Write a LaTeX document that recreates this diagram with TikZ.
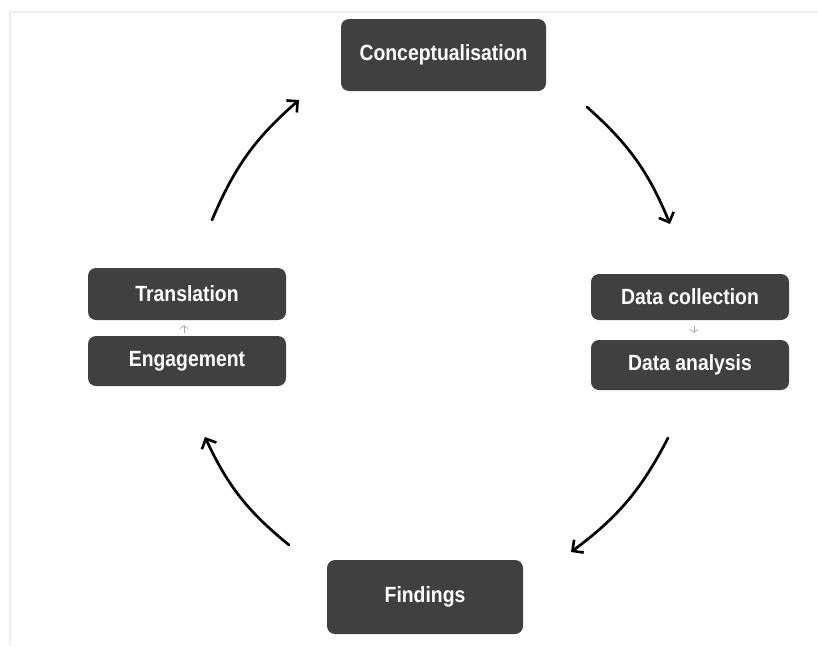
\documentclass[tikz,border=0pt]{standalone}
\usepackage{fontspec}
\setmainfont{Liberation Sans}[FakeStretch=0.88]
\usetikzlibrary{arrows.meta}
\definecolor{boxgray}{HTML}{404040}
\definecolor{framegray}{HTML}{EDEDED}
\tikzset{
  stage/.style={fill=boxgray, rounded corners=8pt, text=white,
    font=\fontsize{22}{24}\selectfont\bfseries, inner sep=0pt, align=center},
  cyclearrow/.style={line width=2.7pt, line cap=round,
    -{Straight Barb[length=8pt,width=16pt,line width=2.6pt]}, bend left=13},
  minorarrow/.style={draw=gray!70, line width=0.7pt,
    -{Straight Barb[length=3pt,width=8pt]}}
}
\begin{document}
\begin{tikzpicture}[x=1pt,y=-1pt]
\useasboundingbox (0,0) rectangle (818,645);
\draw[framegray, line width=1.5pt] (10,645) -- (10,12) -- (818,12);

\node[stage, minimum width=205pt, minimum height=72pt] (concept) at (443.5,55) {Conceptualisation};
\node[stage, minimum width=198pt, minimum height=46pt] (collect) at (690,297) {Data collection};
\node[stage, minimum width=198pt, minimum height=50pt] (analysis) at (690,365) {Data analysis};
\node[stage, minimum width=198pt, minimum height=52pt] (trans) at (187,294) {Translation};
\node[stage, minimum width=198pt, minimum height=50pt] (engage) at (187,361) {Engagement};
\node[stage, minimum width=196pt, minimum height=74pt] (findings) at (425,597) {Findings};

\coordinate (a1s) at (212,220);
\coordinate (a1e) at (299,100);
\coordinate (a2s) at (587,107);
\coordinate (a2e) at (670,224);
\coordinate (a3s) at (668,438);
\coordinate (a3e) at (571,552);
\coordinate (a4s) at (289,545);
\coordinate (a4e) at (205,437);

\draw[cyclearrow] (a1s) to (a1e);
\draw[cyclearrow] (a2s) to (a2e);
\draw[cyclearrow] (a3s) to (a3e);
\draw[cyclearrow] (a4s) to (a4e);

\draw[minorarrow, shorten <=3pt, shorten >=5pt] ([xshift=-3pt]engage.north) -- ([xshift=-3pt]trans.south);
\draw[minorarrow, shorten <=6pt, shorten >=7pt] ([xshift=4pt]collect.south) -- ([xshift=4pt]analysis.north);
\end{tikzpicture}
\end{document}
